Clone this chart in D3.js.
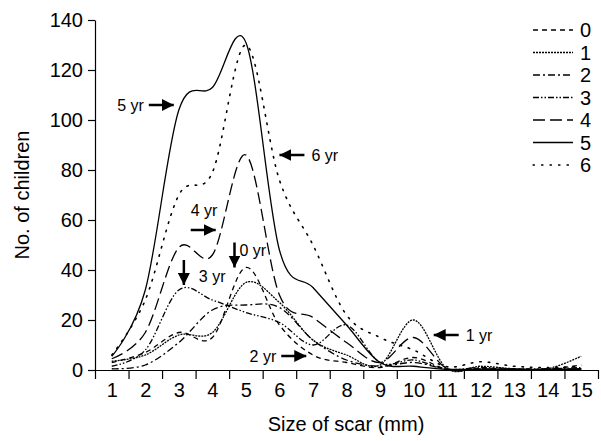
<!DOCTYPE html>
<html>
<head>
<meta charset="utf-8">
<script src="https://cdn.jsdelivr.net/npm/d3@7"></script>
<style>
  body { margin: 0; background: #fff; }
  svg { font-family: "Liberation Sans", Arial, sans-serif; }
</style>
</head>
<body>
<svg id="chart" width="601" height="441"></svg>
<script>
// scar size categories (mm)
var sizes = [1, 2, 3, 4, 5, 6, 7, 8, 9, 10, 11, 12, 13, 14, 15]
var yTicks = [0, 20, 40, 60, 80, 100, 120, 140]
var ages = ["0", "1", "2", "3", "4", "5", "6"]

// number of children per scar size, one list per age
var age0 = [3, 7, 15, 13, 41, 18, 6, 3, 1, 5, 0.3, 0.5, 0.3, 0.3, 2]
var age1 = [3.5, 6, 14, 15, 35, 27, 12, 6, 2, 20, 0.5, 1.5, 0.5, 0.5, 5.5]
var age2 = [0.5, 2, 11, 24, 26, 25, 12, 4, 1.5, 3, 0.3, 0.3, 0.2, 0.2, 0.5]
var age3 = [1.5, 8, 32, 28, 23, 19, 10, 18, 3, 4, 0.3, 1, 0.5, 0.5, 1]
var age4 = [4.5, 15, 49, 46, 86, 30, 21, 11, 3, 13, 0.5, 0.5, 0.3, 0.3, 0.5]
var age5 = [5.5, 32, 104, 113, 131, 48, 33, 18, 3, 1.5, 0.3, 0.3, 0.2, 0.2, 0.3]
var age6 = [6, 28, 70, 79, 130, 76, 50, 22, 13, 8, 1.3, 3.3, 1.5, 1, 1.5]
var series = [age0, age1, age2, age3, age4, age5, age6]

// arrow notes, anchored in data units (size, count)
var notes = [
  { text: "5 yr", x: 2.85, y: 106, dir: "right", pos: "before" },
  { text: "6 yr", x: 6.0, y: 86, dir: "left", pos: "after" },
  { text: "4 yr", x: 4.1, y: 56, dir: "right", pos: "above" },
  { text: "0 yr", x: 4.66, y: 41, dir: "down", pos: "side" },
  { text: "3 yr", x: 3.15, y: 34, dir: "down", pos: "low" },
  { text: "2 yr", x: 6.8, y: 5.6, dir: "right", pos: "before" },
  { text: "1 yr", x: 10.6, y: 14, dir: "left", pos: "after" }
]

var dashes = ["5,4", "2,1", "7,3,2,3", "6,2,1.5,2,1.5,2", "12,5", null, "1.5,7"]

var svg = d3.select("#chart")
var x = d3.scaleLinear().domain([0.5, 15.5]).range([95, 598])
var y = d3.scaleLinear().domain([0, 140]).range([370, 20])

svg.append("defs").append("marker").attr("id", "head")
  .attr("viewBox", "0 0 10 10").attr("refX", 10).attr("refY", 5)
  .attr("markerWidth", 12).attr("markerHeight", 12)
  .attr("markerUnits", "userSpaceOnUse").attr("orient", "auto")
  .append("path").attr("d", "M0,0L10,5L0,10Z").attr("fill", "#000")

// y axis
var yAxis = svg.append("g").attr("transform", "translate(95,0)")
  .call(d3.axisLeft(y).tickValues(yTicks).tickSize(7).tickSizeOuter(0))
yAxis.selectAll("text").attr("font-size", 20).attr("fill", "#000").attr("dx", "-2px")

// x axis: ticks at band edges, labels at centres
var edges = d3.range(0.5, 16, 1)
svg.append("g").attr("transform", "translate(0,370)")
  .call(d3.axisBottom(x).tickValues(edges).tickSize(9).tickSizeOuter(0).tickFormat(""))
var xLab = svg.append("g").attr("transform", "translate(0,370)")
  .call(d3.axisBottom(x).tickValues(sizes).tickSize(0).tickFormat(d3.format("d")))
xLab.select(".domain").remove()
xLab.selectAll("text").attr("font-size", 20).attr("fill", "#000").attr("dy", "1.2em")

svg.selectAll(".domain, .tick line").attr("stroke", "#000").attr("stroke-width", 1.2)

svg.append("text").attr("x", 346).attr("y", 431).attr("text-anchor", "middle")
  .attr("font-size", 20).text("Size of scar (mm)")
svg.append("text").attr("transform", "translate(29,195) rotate(-90)")
  .attr("text-anchor", "middle").attr("font-size", 20).text("No. of children")

// curves
var line = d3.line()
  .x(function(d, i) { return x(sizes[i]) })
  .y(function(d) { return y(d) })
  .curve(d3.curveCatmullRom.alpha(0))

series.forEach(function(vals, k) {
  svg.append("path").attr("d", line(vals))
    .attr("fill", "none").attr("stroke", "#000")
    .attr("stroke-width", k == 6 ? 1.6 : 1.3)
    .attr("stroke-linecap", k == 6 ? "round" : "butt")
    .attr("stroke-dasharray", dashes[k])
})

// legend
var leg = svg.append("g")
ages.forEach(function(a, k) {
  var ly = 30 + k * 22.5
  leg.append("line").attr("x1", 533).attr("x2", 573).attr("y1", ly).attr("y2", ly)
    .attr("stroke", "#000").attr("stroke-width", 1.3)
    .attr("stroke-linecap", k == 6 ? "round" : "butt")
    .attr("stroke-dasharray", dashes[k])
  leg.append("text").attr("x", 580).attr("y", ly + 7).attr("font-size", 20).text(a)
})

// arrow notes
notes.forEach(function(n) {
  var px = x(n.x), py = y(n.y)
  var g = svg.append("g")
  var ax = px, ay = py
  if (n.dir == "right") ax = px - 25
  if (n.dir == "left") ax = px + 25
  if (n.dir == "down") ay = py - 25
  g.append("line").attr("x1", ax).attr("y1", ay).attr("x2", px).attr("y2", py)
    .attr("stroke", "#000").attr("stroke-width", 2.5).attr("marker-end", "url(#head)")
  var t = g.append("text").attr("font-size", 16).text(n.text)
  if (n.pos == "before") t.attr("x", ax - 5).attr("y", py + 6).attr("text-anchor", "end")
  if (n.pos == "after") t.attr("x", ax + 7).attr("y", py + 6)
  if (n.pos == "above") t.attr("x", ax).attr("y", py - 14)
  if (n.pos == "side") t.attr("x", px + 5).attr("y", ay + 13)
  if (n.pos == "low") t.attr("x", px + 15).attr("y", py - 3)
})
</script>
</body>
</html>
